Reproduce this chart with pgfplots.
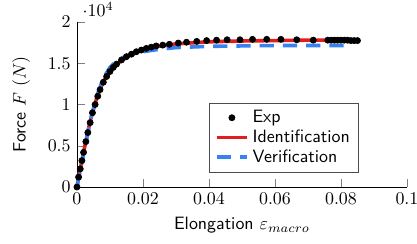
\documentclass[border=0pt]{standalone}
\usepackage{pgfplots}
\pgfplotsset{compat=1.18}
\definecolor{myred}{RGB}{225,30,30}
\definecolor{myblue}{RGB}{55,130,240}
\begin{document}
\begin{tikzpicture}
\begin{axis}[
  scale only axis,
  width=184.4pt, height=92.2pt,
  axis lines*=left,
  xmin=0, xmax=0.1, ymin=0, ymax=20000,
  xtick={0,0.02,0.04,0.06,0.08,0.1},
  ytick={0,5000,10000,15000,20000},
  scaled x ticks=false,
  xticklabel style={/pgf/number format/fixed},
  xlabel={\sffamily Elongation $\varepsilon_{macro}$},
  ylabel={\sffamily Force $F$ $(N)$},
  ylabel style={yshift=3pt},
  legend style={at={(0.855,0.089)}, anchor=south east, font=\sffamily, draw=black!70, row sep=-1.5pt},
  legend cell align=left,
  clip=false,
]
\addplot[only marks, mark=*, mark size=1.7pt, black] coordinates {
(0,0)(0.0005,1200)(0.001,2200)(0.0015,3200)(0.002,4200)(0.0027,5500)(0.0033,6600)
(0.004,7800)(0.0047,9000)(0.0055,10000)(0.0063,11000)(0.007,11800)(0.008,12700)
(0.009,13400)(0.01,14000)(0.011,14500)(0.012,14900)(0.0135,15400)(0.015,15800)
(0.0165,16100)(0.018,16400)(0.0195,16600)(0.021,16800)(0.0225,16950)(0.024,17100)
(0.026,17200)(0.028,17300)(0.0307,17450)(0.0332,17550)(0.0363,17650)(0.0393,17750)
(0.0423,17800)(0.0455,17850)(0.0494,17850)(0.0532,17900)(0.0575,17900)(0.0618,17900)
(0.0666,17850)(0.0716,17800)(0.076,17800)(0.077,17800)(0.078,17800)(0.079,17800)
(0.080,17800)(0.081,17800)(0.082,17800)(0.083,17750)(0.084,17750)(0.085,17750)
};
\addlegendentry{Exp}
\addplot[myred, line width=2pt] coordinates {
(0,0)(0.0004,1000)(0.002,4200)(0.004,8000)(0.006,10800)(0.008,12800)(0.01,14000)
(0.013,15200)(0.017,16200)(0.022,16900)(0.03,17350)(0.04,17600)(0.05,17700)
(0.06,17750)(0.07,17800)(0.085,17800)
};
\addlegendentry{Identification}
\addplot[myblue, line width=2pt, dash pattern=on 8pt off 5pt] coordinates {
(0,0)(0.002,4000)(0.004,8000)(0.006,11000)(0.008,13200)(0.01,14500)(0.012,15300)
(0.015,15900)(0.02,16400)(0.025,16700)(0.03,16900)(0.04,17050)(0.05,17100)
(0.06,17150)(0.07,17150)(0.083,17150)
};
\addlegendentry{Verification}
\end{axis}
\pgfresetboundingbox
\path ([shift={(-43pt,-31.3pt)}]current axis.south west) rectangle ([shift={(5.6pt,12.3pt)}]current axis.north east);
\end{tikzpicture}
\end{document}
